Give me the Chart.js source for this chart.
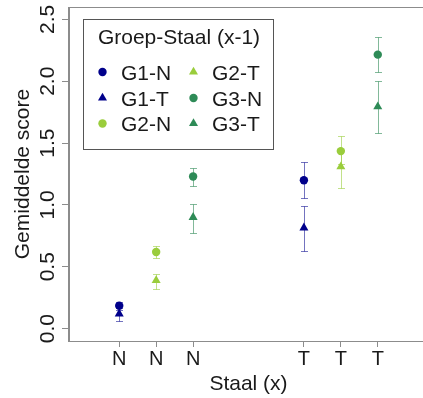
<!DOCTYPE html>
<html>
<head>
<meta charset="utf-8">
<script src="https://cdn.jsdelivr.net/npm/chart.js@4.4.0/dist/chart.umd.min.js"></script>
<style>
  html, body { margin: 0; padding: 0; overflow: hidden; background: #fff; }
  #grafico { display: block; }
</style>
</head>
<body>
<canvas id="grafico" width="440" height="398"></canvas>
<script>
// eixo x: N N N ... T T T
const posicoesX = [1, 2, 3, 6, 7, 8];
const rotulosX = ['N', 'N', 'N', 'T', 'T', 'T'];
const ticksY = [0, 0.5, 1, 1.5, 2, 2.5];
const rotulosY = ['0.0', '0.5', '1.0', '1.5', '2.0', '2.5'];

const series = ['G1-N', 'G1-T', 'G2-N', 'G2-T', 'G3-N', 'G3-T'];

// posição de cada grupo (primeiro ponto no N, segundo no T)
const xG1 = [1, 6];
const xG2 = [2, 7];
const xG3 = [3, 8];

// médias e limites do erro
const mediaG1N = [0.185, 1.20];
const infG1N = [0.15, 1.055];
const supG1N = [0.215, 1.35];

const mediaG1T = [0.12, 0.815];
const infG1T = [0.06, 0.63];
const supG1T = [0.17, 0.99];

const mediaG2N = [0.62, 1.435];
const infG2N = [0.57, 1.33];
const supG2N = [0.665, 1.555];

const mediaG2T = [0.39, 1.31];
const infG2T = [0.32, 1.135];
const supG2T = [0.44, 1.44];

const mediaG3N = [1.23, 2.215];
const infG3N = [1.155, 2.075];
const supG3N = [1.30, 2.36];

const mediaG3T = [0.90, 1.795];
const infG3T = [0.775, 1.58];
const supG3T = [1.005, 2.0];

const corG1 = '#00008B';
const corG2 = '#9ACD3C';
const corG3 = '#2E8B57';

const fonte = '"Liberation Sans", Arial, sans-serif';

function serie(label, xs, media, inf, sup, cor, corErro, estilo) {
    return {
        label: label,
        data: xs.map(function(x, i) { return { x: x, y: media[i] }; }),
        inferior: inf,
        superior: sup,
        corErro: corErro,
        pointStyle: estilo,
        pointRadius: estilo === 'triangle' ? 5.2 : 4.2,
        pointHoverRadius: estilo === 'triangle' ? 5.2 : 4.2,
        backgroundColor: cor,
        borderColor: cor,
        pointBorderWidth: 0,
        showLine: false
    };
}

const datasets = [
    serie(series[0], xG1, mediaG1N, infG1N, supG1N, corG1, 'rgba(0,0,139,0.55)', 'circle'),
    serie(series[1], xG1, mediaG1T, infG1T, supG1T, corG1, 'rgba(0,0,139,0.55)', 'triangle'),
    serie(series[2], xG2, mediaG2N, infG2N, supG2N, corG2, 'rgba(154,205,60,0.6)', 'circle'),
    serie(series[3], xG2, mediaG2T, infG2T, supG2T, corG2, 'rgba(154,205,60,0.6)', 'triangle'),
    serie(series[4], xG3, mediaG3N, infG3N, supG3N, corG3, 'rgba(46,139,87,0.6)', 'circle'),
    serie(series[5], xG3, mediaG3T, infG3T, supG3T, corG3, 'rgba(46,139,87,0.6)', 'triangle')
];

// barras de erro, desenhadas antes dos pontos
const barrasErro = {
    id: 'barrasErro',
    beforeDatasetsDraw: function(chart) {
        const ctx = chart.ctx;
        const sx = chart.scales.x, sy = chart.scales.y;
        chart.data.datasets.forEach(function(ds) {
            ctx.save();
            ctx.strokeStyle = ds.corErro;
            ctx.lineWidth = 1;
            ds.data.forEach(function(p, i) {
                const px = Math.round(sx.getPixelForValue(p.x)) + 0.5;
                const y1 = Math.round(sy.getPixelForValue(ds.inferior[i])) + 0.5;
                const y2 = Math.round(sy.getPixelForValue(ds.superior[i])) + 0.5;
                ctx.beginPath();
                ctx.moveTo(px, y1); ctx.lineTo(px, y2);
                ctx.moveTo(px - 3.5, y1); ctx.lineTo(px + 3.5, y1);
                ctx.moveTo(px - 3.5, y2); ctx.lineTo(px + 3.5, y2);
                ctx.stroke();
            });
            ctx.restore();
        });
    }
};

// moldura, textos dos eixos e legenda
const textos = {
    id: 'textos',
    afterDraw: function(chart) {
        const ctx = chart.ctx;
        const area = chart.chartArea;
        const sx = chart.scales.x, sy = chart.scales.y;
        ctx.save();

        ctx.strokeStyle = '#8c8c8c';
        ctx.lineWidth = 1;
        ctx.strokeRect(Math.round(area.left) - 0.5, Math.round(area.top) + 0.5,
            Math.round(area.right - area.left), Math.round(area.bottom - area.top));

        ctx.fillStyle = '#1a1a1a';
        ctx.font = '20px ' + fonte;
        ctx.textAlign = 'center';
        ctx.textBaseline = 'alphabetic';
        posicoesX.forEach(function(v, i) {
            ctx.fillText(rotulosX[i], sx.getPixelForValue(v), 365);
        });

        ctx.font = '21px ' + fonte;
        ctx.fillText('Staal (x)', (area.left + area.right) / 2, 390);

        // rótulos do eixo y girados
        ctx.save();
        ctx.rotate(-Math.PI / 2);
        ctx.font = '21px ' + fonte;
        ticksY.forEach(function(v, i) {
            ctx.fillText(rotulosY[i], -sy.getPixelForValue(v), 54);
        });
        ctx.fillText('Gemiddelde score', -(area.top + area.bottom) / 2, 29);
        ctx.restore();

        // legenda
        ctx.strokeStyle = '#555';
        ctx.strokeRect(83.5, 19.5, 190, 130);
        ctx.font = '21px ' + fonte;
        ctx.textAlign = 'center';
        ctx.fillText('Groep-Staal (x-1)', 179, 44);
        ctx.textAlign = 'left';
        const colSimb = [102.5, 193.5];
        const colTexto = [121, 212];
        const linhaSimb = [72, 98, 123.5];
        const linhaTexto = [80, 106, 131];
        chart.data.datasets.forEach(function(ds, i) {
            const c = Math.floor(i / 3), l = i % 3;
            ctx.fillStyle = ds.backgroundColor;
            ctx.strokeStyle = ds.backgroundColor;
            Chart.helpers.drawPoint(ctx, {
                pointStyle: ds.pointStyle,
                radius: ds.pointRadius,
                borderWidth: 0,
                rotation: 0
            }, colSimb[c], linhaSimb[l]);
            ctx.fillStyle = '#1a1a1a';
            ctx.fillText(ds.label, colTexto[c], linhaTexto[l]);
        });
        ctx.restore();
    }
};

const ctx = document.getElementById('grafico').getContext('2d');
const grafico = new Chart(ctx, {
    type: 'scatter',
    data: { datasets: datasets },
    options: {
        responsive: false,
        animation: false,
        devicePixelRatio: 1,
        layout: { padding: { left: 0, right: 12, top: 7, bottom: 0 } },
        plugins: {
            legend: { display: false },
            tooltip: { enabled: false }
        },
        scales: {
            x: {
                type: 'linear',
                min: -0.36,
                max: 9.36,
                afterBuildTicks: function(scale) {
                    scale.ticks = posicoesX.map(function(v) { return { value: v }; });
                },
                afterFit: function(scale) { scale.height = 57; },
                ticks: { display: false },
                grid: { drawOnChartArea: false, drawTicks: true, tickLength: 6, color: '#8c8c8c' },
                border: { display: true, color: '#8c8c8c' }
            },
            y: {
                type: 'linear',
                min: -0.1,
                max: 2.6,
                afterBuildTicks: function(scale) {
                    scale.ticks = ticksY.map(function(v) { return { value: v }; });
                },
                afterFit: function(scale) { scale.width = 69; },
                ticks: { display: false },
                grid: { drawOnChartArea: false, drawTicks: true, tickLength: 7, color: '#8c8c8c' },
                border: { display: true, color: '#8c8c8c' }
            }
        }
    },
    plugins: [barrasErro, textos]
});
</script>
</body>
</html>
